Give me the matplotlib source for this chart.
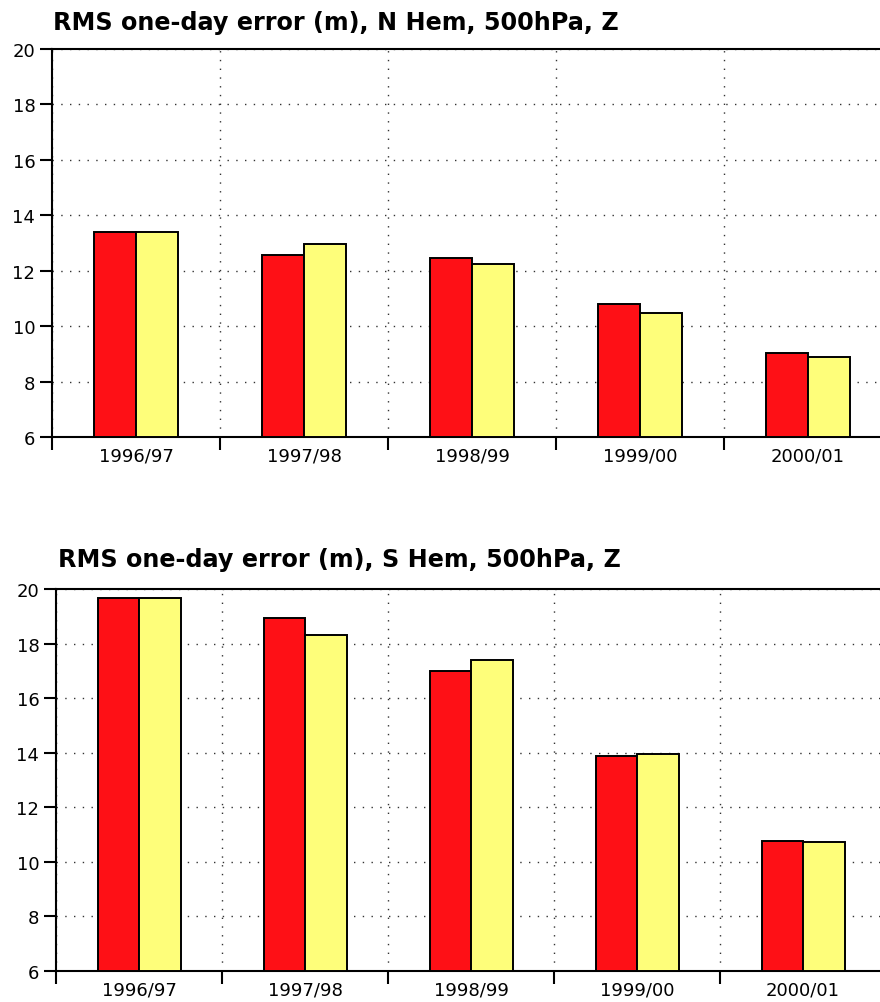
import matplotlib.pyplot as plt
import numpy as np

plt.rcParams['font.family'] = ['DejaVu Sans']

seasons = ['1996/97', '1997/98', '1998/99', '1999/00', '2000/01']
nh_red = [13.40, 12.57, 12.46, 10.80, 9.02]
nh_yellow = [13.40, 12.96, 12.24, 10.49, 8.87]
sh_red = [19.67, 18.94, 17.00, 13.88, 10.75]
sh_yellow = [19.67, 18.31, 17.40, 13.97, 10.72]

titles = ['RMS one-day error (m), N Hem, 500hPa, Z',
          'RMS one-day error (m), S Hem, 500hPa, Z']

red = '#fe1016'
yellow = '#fefe7a'

fig = plt.figure(figsize=(8.8, 10.03), dpi=100)
ax1 = fig.add_axes([52/880, 1-438/1003, 840/880, 388/1003])
ax2 = fig.add_axes([56/880, 1-972/1003, 830/880, 382/1003])


def draw_panel(ax, r, y):
    x = np.arange(len(seasons))
    w = 0.25
    ax.bar(x - w/2, np.array(r) - 6, w, bottom=6, color=red,
           edgecolor='black', linewidth=1.4, zorder=3)
    ax.bar(x + w/2, np.array(y) - 6, w, bottom=6, color=yellow,
           edgecolor='black', linewidth=1.4, zorder=3)
    ax.set_xlim(-0.5, len(seasons) - 0.5)
    ax.set_ylim(6, 20)
    ax.set_yticks(range(6, 21, 2))
    ax.set_xticks(np.arange(len(seasons) + 1) - 0.5)
    ax.set_xticklabels([])
    ax.set_xticks(x, minor=True)
    ax.set_xticklabels(seasons, minor=True)
    ax.tick_params(axis='x', which='minor', length=0, pad=7, labelsize=13)
    ax.tick_params(axis='x', which='major', length=9, width=1.5, direction='out')
    ax.tick_params(axis='y', length=9, width=1.5, pad=3, labelsize=13)
    ax.grid(True, which='major', linestyle=(0, (1, 5.3)), color='#333333',
            linewidth=1.0, zorder=0)
    ax.set_axisbelow(True)
    for s in ax.spines.values():
        s.set_linewidth(1.5)
    ax.spines['right'].set_visible(False)


draw_panel(ax1, nh_red, nh_yellow)
draw_panel(ax2, sh_red, sh_yellow)

fig.text(53/880, 1-30/1003, titles[0], fontsize=17.2, fontweight='bold',
         va='baseline', ha='left')
fig.text(58/880, 1-567/1003, titles[1], fontsize=17.2, fontweight='bold',
         va='baseline', ha='left')

fig.savefig('out.png', dpi=100)
